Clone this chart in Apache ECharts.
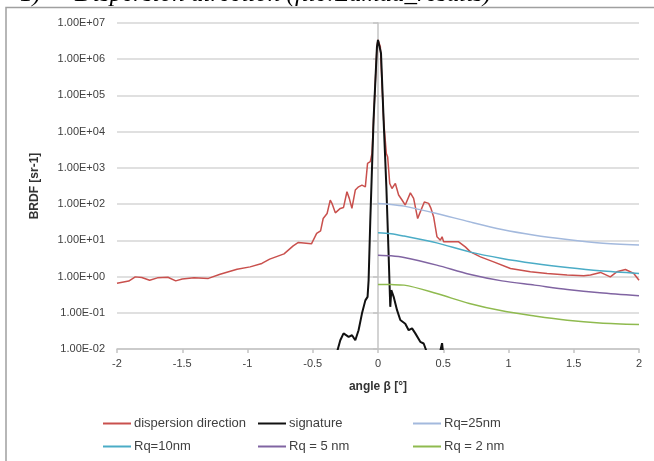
<!DOCTYPE html>
<html><head><meta charset="utf-8">
<script src="https://cdn.jsdelivr.net/npm/echarts@6/dist/echarts.min.js"></script>
<style>html,body{margin:0;padding:0;background:#fff}#c{width:654px;height:461px}</style>
</head><body><div id="c"></div>
<script>
// ---- data ----
const redX = [-2.00,-1.91,-1.86,-1.81,-1.75,-1.69,-1.61,-1.55,-1.50,-1.41,-1.30,-1.21,-1.08,-0.98,-0.89,-0.83,-0.72,-0.65,-0.61,-0.51,-0.47,-0.44,-0.42,-0.39,-0.366,-0.353,-0.327,-0.289,-0.264,-0.238,-0.22,-0.20,-0.174,-0.149,-0.123,-0.097,-0.08,-0.059,-0.046,-0.034,-0.008,0,0.018,0.043,0.064,0.074,0.09,0.107,0.133,0.158,0.184,0.209,0.248,0.273,0.304,0.324,0.355,0.388,0.406,0.426,0.452,0.478,0.491,0.503,0.567,0.618,0.669,0.708,0.785,0.886,1.015,1.168,1.296,1.449,1.577,1.628,1.705,1.78,1.83,1.896,1.96,2.0];
const redY = [0.65,0.75,0.98,0.94,0.79,0.92,0.96,0.76,0.86,0.92,0.89,1.16,1.60,1.85,2.30,3.02,4.24,7.05,8.75,8.0,15.5,18.3,40,55,129,105,57.5,76,81,219,144,76,244,300,335,300,1330,1480,2520,21000,2200000,3400000,2200000,21000,2500,2000,372,270,372,178,130,94,204,144,40,61,115,105,76,45,12.5,10.1,12.5,9.1,9.1,9.1,6.6,4.8,3.5,2.55,1.67,1.35,1.22,1.10,1.05,1.10,1.30,0.98,1.35,1.57,1.22,0.79];
const blackX = [-0.315,-0.289,-0.264,-0.225,-0.199,-0.174,-0.149,-0.123,-0.097,-0.08,-0.072,-0.059,-0.034,-0.008,0,0.023,0.043,0.064,0.081,0.094,0.102,0.12,0.146,0.171,0.209,0.235,0.261,0.286,0.324,0.35,0.37,0.42,0.478,0.491,0.497];
const blackY = [0.008,0.0175,0.027,0.0216,0.024,0.0175,0.033,0.095,0.22,0.275,0.79,36,21000,2200000,3400000,1460000,21000,300,4.4,0.146,0.42,0.275,0.118,0.063,0.05,0.033,0.037,0.027,0.0158,0.0142,0.009,null,0.009,0.0145,0.009];
const rqX = [0, 0.1, 0.2, 0.45, 0.7, 0.95, 1.2, 1.45, 1.7, 2];
const rq25 = [104, 98, 88, 55, 32.5, 20, 13.9, 10.6, 8.5, 7.4];
const rq10 = [16.1, 15.2, 13.1, 8.5, 4.8, 3.16, 2.30, 1.78, 1.44, 1.22];
const rq5 = [3.9, 3.75, 3.37, 2.07, 1.16, 0.76, 0.58, 0.44, 0.355, 0.293];
const rq2 = [0.605, 0.6, 0.58, 0.34, 0.18, 0.113, 0.082, 0.0625, 0.0525, 0.0475];
const seriesNames = ['dispersion direction', 'signature', 'Rq=25nm', 'Rq=10nm', 'Rq = 5 nm', 'Rq = 2 nm'];
const titleText = 'Dispersion direction (file:Lamda_results)';

const pairs = (xs, ys) => xs.map((x, i) => [x, ys[i] == null ? '-' : ys[i]]);
const colors = ['#c9504d', '#111111', '#a3b9dd', '#4bacc6', '#8064a2', '#8fba4f'];
const FONT = 'Liberation Sans';

function fmtExp(v) {
  const e = Math.round(Math.log10(v));
  return '1.00E' + (e < 0 ? '-' : '+') + String(Math.abs(e)).padStart(2, '0');
}

const legendPos = [[103, 417], [258, 417], [413, 417], [103, 440], [258, 440], [413, 440]];
const legends = seriesNames.map((n, i) => ({
  data: [n], left: legendPos[i][0], top: legendPos[i][1], padding: 0,
  icon: 'rect', itemWidth: 28, itemHeight: 2, itemGap: 0, selectedMode: false,
  textStyle: { fontSize: 13, color: '#404040', fontFamily: FONT, padding: [0, 0, 0, -2] }
}));

const mk = (name, data, i, w, smooth) => ({
  name, type: 'line', data, color: colors[i], showSymbol: false, symbol: 'none',
  smooth: smooth, lineStyle: { width: w, color: colors[i] }, clip: true, animation: false,
  connectNulls: false
});

const chart = echarts.init(document.getElementById('c'), null, { renderer: 'canvas' });
chart.setOption({
  animation: false,
  grid: { left: 117, right: 15, top: 23, bottom: 112, containLabel: false },
  graphic: [
    { type: 'rect', shape: { x: 6, y: 7.5, width: 700, height: 500 }, style: { fill: 'none', stroke: '#a0a0a0', lineWidth: 1.5 }, z: -1 },
    { type: 'text', left: 20, top: -18, style: { text: '1)', fontStyle: 'italic', fontSize: 25, fontFamily: 'Liberation Serif', fill: '#000' } },
    { type: 'text', left: 75, top: -18, style: { text: titleText, fontStyle: 'italic', fontSize: 25, fontFamily: 'Liberation Serif', fill: '#000' } }
  ],
  legend: legends,
  xAxis: {
    type: 'value', min: -2, max: 2, interval: 0.5,
    name: 'angle β [°]', nameLocation: 'middle', nameGap: 32,
    nameTextStyle: { fontWeight: 'bold', fontSize: 12, color: '#333', fontFamily: FONT },
    axisLine: { show: true, lineStyle: { color: '#c4c4c4', width: 1.5 } },
    axisTick: { show: true, inside: false, length: 4, lineStyle: { color: '#c4c4c4', width: 1.5 } },
    axisLabel: { fontSize: 11, color: '#404040', fontFamily: FONT, margin: 9, formatter: v => String(v) },
    splitLine: { show: false }
  },
  yAxis: {
    type: 'log', logBase: 10, min: 0.01, max: 1e7,
    name: 'BRDF [sr-1]', nameLocation: 'middle', nameGap: 76, nameRotate: 90,
    nameTextStyle: { fontWeight: 'bold', fontSize: 12, color: '#333', fontFamily: FONT },
    axisLine: { show: true, lineStyle: { color: '#c4c4c4', width: 1.5 } },
    axisTick: { show: true, inside: false, length: 5, lineStyle: { color: '#c4c4c4', width: 1.5 } },
    axisLabel: { fontSize: 11, color: '#404040', fontFamily: FONT, margin: 12, formatter: fmtExp },
    splitLine: { show: true, lineStyle: { color: '#d6d6d6', width: 1.5 } }
  },
  series: [
    mk(seriesNames[0], pairs(redX, redY), 0, 1.5, false),
    mk(seriesNames[1], pairs(blackX, blackY), 1, 2, false),
    mk(seriesNames[2], pairs(rqX, rq25), 2, 1.5, 0.3),
    mk(seriesNames[3], pairs(rqX, rq10), 3, 1.5, 0.3),
    mk(seriesNames[4], pairs(rqX, rq5), 4, 1.5, 0.3),
    mk(seriesNames[5], pairs(rqX, rq2), 5, 1.5, 0.3)
  ]
});
</script></body></html>
